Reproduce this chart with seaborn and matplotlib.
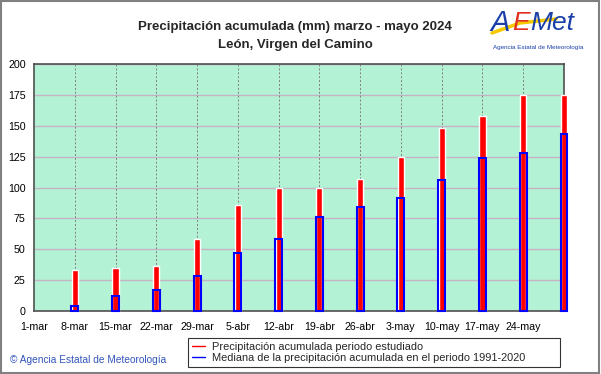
import pandas as pd
import seaborn as sns
import matplotlib.pyplot as plt
from matplotlib.patches import Rectangle
from matplotlib.lines import Line2D

# weekly cumulative precipitation, Leon Virgen del Camino, spring 2024
fechas = ["1-mar", "8-mar", "15-mar", "22-mar", "29-mar", "5-abr", "12-abr",
          "19-abr", "26-abr", "3-may", "10-may", "17-may", "24-may", "31-may"]
etiquetas = fechas[:-1] + [""]
acumulada = [33, 34.7, 36.5, 58, 85.8, 100, 100, 106.6, 124.8, 148, 158, 175, 175]
mediana = [4, 12.2, 16.8, 28.4, 47, 58.7, 76.3, 84.4, 91.2, 105.8, 123.7, 128, 143]
yticks = [0, 25, 50, 75, 100, 125, 150, 175, 200]

df = pd.DataFrame({"fecha": fechas[1:], "acumulada": acumulada, "mediana": mediana})

sns.set_style("white")
plt.rcParams["font.family"] = ["Liberation Sans", "DejaVu Sans"]

fig = plt.figure(figsize=(6.01, 3.74), dpi=100)
ax = fig.add_axes([34 / 601, 1 - 311 / 374, 530 / 601, 247 / 374])
ax.set_facecolor("#b4f2d6")

sns.barplot(data=df, x="fecha", y="acumulada", order=fechas, color="#ff0000",
            saturation=1, width=0.15, errorbar=None, ax=ax, zorder=3)
sns.barplot(data=df, x="fecha", y="mediana", order=fechas, color="#0000ff",
            fill=False, linewidth=1.5, width=0.17, errorbar=None, ax=ax, zorder=4)
for p in ax.patches:
    p.set_clip_on(False)

ax.set_xlim(0, 12.92)
ax.set_ylim(0, 200)
ax.set_yticks(yticks)
ax.set_xticks(range(len(fechas)))
ax.set_xticklabels(etiquetas)
ax.set_xlabel("")
ax.set_ylabel("")
ax.tick_params(axis="both", length=0, labelsize=7.7, colors="black")
ax.tick_params(axis="x", pad=8)
ax.tick_params(axis="y", pad=6)
ax.grid(axis="y", color="#c4b4c4", linewidth=1, zorder=1)
for i in range(1, len(fechas)):
    ax.axvline(i, color="#808080", linestyle=(0, (2, 2)), linewidth=0.7, zorder=1)
ax.set_axisbelow(True)
for s in ax.spines.values():
    s.set_color("#505050")
    s.set_linewidth(1.2)

fig.text(295 / 601, 1 - 27 / 374, "Precipitación acumulada (mm) marzo - mayo 2024",
         ha="center", va="center", fontsize=9.5, fontweight="bold")
fig.text(295 / 601, 1 - 45 / 374, "León, Virgen del Camino",
         ha="center", va="center", fontsize=9.5, fontweight="bold")

# logo
fig.add_artist(Line2D([492 / 601, 520 / 601, 556 / 601], [1 - 33 / 374, 1 - 23 / 374, 1 - 19 / 374],
                      color="#f5c800", linewidth=2.5))
fig.text(490 / 601, 1 - 23 / 374, "A", color="#1a3fa8", fontsize=21,
         style="italic", va="center", ha="left")
fig.text(512 / 601, 1 - 23 / 374, "E", color="#e03020", fontsize=19,
         style="italic", va="center", ha="left")
fig.text(530 / 601, 1 - 23 / 374, "Met", color="#1a3fa8", fontsize=19,
         style="italic", va="center", ha="left")
fig.text(538 / 601, 1 - 48 / 374, "Agencia Estatal de Meteorología", color="#1a3fa8",
         fontsize=4.5, va="center", ha="center")

fig.text(10 / 601, 1 - 360 / 374, "© Agencia Estatal de Meteorología", color="#3355bb",
         fontsize=7.3, va="center", ha="left")

handles = [Line2D([], [], color="#ff0000", linewidth=1),
           Line2D([], [], color="#0000ff", linewidth=1)]
leg = fig.legend(handles, ["Precipitación acumulada periodo estudiado",
                           "Mediana de la precipitación acumulada en el periodo 1991-2020"],
                 loc="lower left", mode="expand",
                 bbox_to_anchor=(188 / 601, 1 - 367 / 374, 372 / 601, 31 / 374),
                 fontsize=7.9, frameon=True, fancybox=False, handlelength=1.2,
                 handletextpad=0.6, borderpad=0.35, labelspacing=0.15, borderaxespad=0)
leg.get_frame().set_edgecolor("black")
leg.get_frame().set_linewidth(0.8)

fig.add_artist(Rectangle((0.002, 0.003), 0.995, 0.993, transform=fig.transFigure,
                         fill=False, edgecolor="#808080", linewidth=1.5))

fig.savefig("out.png", dpi=100)
